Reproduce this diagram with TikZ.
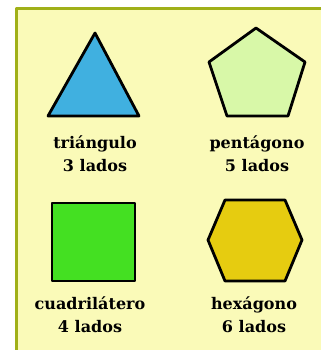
\documentclass[tikz,border=0pt]{standalone}
\usepackage{fontspec}
\setmainfont{DejaVu Serif}
\usetikzlibrary{positioning}
\definecolor{paper}{RGB}{250,250,184}
\definecolor{frame}{RGB}{160,176,24}
\definecolor{triblue}{RGB}{64,176,224}
\definecolor{pentgreen}{RGB}{216,248,168}
\definecolor{quadgreen}{RGB}{68,224,34}
\definecolor{hexgold}{RGB}{230,204,16}
\tikzset{
	every path/.style={line join=round},
	figure/.style={
		draw=black,
		line width=2.8pt,
	},
	caption/.style={
		align=center,
		inner sep=0pt,
		font=\fontsize{16}{23}\selectfont\bfseries,
	},
}

\begin{document}
\begin{tikzpicture}
[x=1pt, y=-1pt]
\useasboundingbox (0,0) rectangle (321,350);
\fill[paper] (15,7) rectangle (321,350);
\draw[frame, line width=3pt] (16.5,350) -- (16.5,8.5) -- (321,8.5);
% row 1
\draw[figure, fill=triblue] (95,33) -- (139,116) -- (48,116) -- cycle;
\draw[figure, fill=pentgreen] (256,28) -- (305,62) -- (288,116)
	-- (227,116) -- (209,62) -- cycle;
\node [caption] (tri) at (95,154) {triángulo\\3 lados};
\node [caption] (pent) at (257,154) {pentágono\\5 lados};
% row 2
\draw[figure, fill=quadgreen] (52,203) rectangle (135,281);
\draw[figure, fill=hexgold] (208,240) -- (225,200) -- (285,200)
	-- (302,240) -- (285,281) -- (225,281) -- cycle;
\node [caption] (quad) at (90,315) {cuadrilátero\\4 lados};
\node [caption] (hex) at (254,315) {hexágono\\6 lados};
\end{tikzpicture}
\end{document}
